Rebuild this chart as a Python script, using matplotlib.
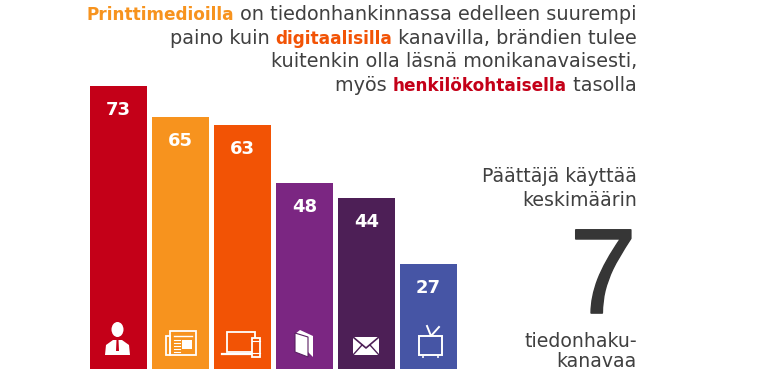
"""Channel usage bars with an infographic headline."""

import matplotlib

matplotlib.use("Agg")

import matplotlib.pyplot as plt
import matplotlib.patheffects as pe
from matplotlib.patches import Circle, Ellipse, Polygon, Rectangle

values = [73, 65, 63, 48, 44, 27]
bar_colors = ["#C40018", "#F7931E", "#F25305", "#7B2682", "#4D1F56", "#4655A5"]

headline = [
    [("Printtimedioilla", "#F7931E"), (" on tiedonhankinnassa edelleen suurempi", None)],
    [("paino kuin ", None), ("digitaalisilla", "#F25305"), (" kanavilla, brändien tulee", None)],
    [("kuitenkin olla läsnä monikanavaisesti,", None)],
    [("myös ", None), ("henkilökohtaisella", "#C40018"), (" tasolla", None)],
]
side_top = ["Päättäjä käyttää", "keskimäärin"]
side_big = "7"
side_bottom = ["tiedonhaku-", "kanavaa"]

TEXT = "#404040"
WHITE = "white"


def draw_line(fig, overlay, parts, right, base):
    # right aligned line with bold coloured words, measured from the end
    renderer = fig.canvas.get_renderer()
    x = right
    for word, color in reversed(parts):
        weight = "bold" if color else "normal"
        size = 12.2 if color else 13.9
        t = overlay.text(x, base, word.replace(" ", "\u00a0"), ha="right", va="baseline",
                         fontsize=size, color=color or TEXT, fontweight=weight)
        x -= t.get_window_extent(renderer).width


def draw_person(ov):
    ov.add_patch(Ellipse((117.5, 329.5), 12, 15, color=WHITE, lw=0))
    ov.add_patch(Polygon([(105, 355), (106, 345), (113, 340), (122, 340), (129, 345), (130, 355)], color=WHITE, lw=0))
    ov.add_patch(Polygon([(116.5, 340), (118.5, 340), (119, 351), (116, 351)], color=bar_colors[0], lw=0))


def draw_paper(ov):
    ov.add_patch(Rectangle((170, 331), 26, 24, fill=False, ec=WHITE, lw=1.3))
    ov.add_patch(Rectangle((166, 336), 4, 19, fill=False, ec=WHITE, lw=1.3))
    ov.add_patch(Rectangle((182, 340), 10, 9, color=WHITE, lw=0))
    ov.plot([174, 192], [335.5, 335.5], color=WHITE, lw=1)
    for y in (340, 343, 346, 349, 352):
        ov.plot([174, 180], [y, y], color=WHITE, lw=0.8)


def draw_devices(ov):
    ov.add_patch(Rectangle((227, 332), 28, 20, fill=False, ec=WHITE, lw=1.3))
    ov.plot([222, 251], [354, 354], color=WHITE, lw=1.6)
    ov.add_patch(Rectangle((252, 338), 8, 19, fc=bar_colors[2], ec=WHITE, lw=1.3))
    ov.plot([252, 260], [341, 341], color=WHITE, lw=0.8)
    ov.plot([252, 260], [353, 353], color=WHITE, lw=0.8)


def draw_book(ov):
    ov.add_patch(Polygon([(295, 334), (300, 330), (313, 336), (313, 357), (308, 352), (295, 352)],
                         color=WHITE, lw=0))
    ov.add_patch(Polygon([(295, 352), (308, 357), (308, 337), (295, 333)], fc=WHITE, ec="#5A1F62", lw=0.8))


def draw_mail(ov):
    ov.add_patch(Rectangle((353, 337), 26, 18, color=WHITE, lw=0))
    ov.plot([353, 366, 379], [337, 348, 337], color=bar_colors[4], lw=1.2)
    ov.plot([353, 362], [355, 345], color=bar_colors[4], lw=1)
    ov.plot([379, 370], [355, 345], color=bar_colors[4], lw=1)


def draw_tv(ov):
    ov.add_patch(Rectangle((419, 336), 23, 19, fill=False, ec=WHITE, lw=1.4))
    ov.plot([427, 431, 439], [326, 336, 327], color=WHITE, lw=1.4)
    ov.add_patch(Circle((423, 357), 1, color=WHITE, lw=0))
    ov.add_patch(Circle((438, 357), 1, color=WHITE, lw=0))


def main():
    fig = plt.figure(figsize=(7.7, 3.7), dpi=100)
    ax = fig.add_axes([90 / 770, 1 / 370, 367 / 770, 369 / 370])
    positions = list(range(len(values)))
    ax.bar(positions, values, width=0.92, color=bar_colors)
    ax.set_xlim(-0.46, 5.46)
    ax.set_ylim(0, 95.1)
    ax.axis("off")
    for pos, value in zip(positions, values):
        ax.annotate(str(value), (pos, value), xytext=(0, -24), textcoords="offset pixels",
                    ha="center", va="center", color=WHITE, fontsize=13, fontweight="bold")

    # pixel canvas for text and icons, y runs downward as in the image
    overlay = fig.add_axes([0, 0, 1, 1])
    overlay.set_xlim(0, 770)
    overlay.set_ylim(370, 0)
    overlay.axis("off")
    overlay.patch.set_alpha(0)

    fig.canvas.draw()
    for parts, base in zip(headline, [20, 44, 67, 91]):
        draw_line(fig, overlay, parts, 637, base)

    for line, base in zip(side_top, [182, 206]):
        overlay.text(637, base, line, ha="right", va="baseline", fontsize=13.6, color=TEXT)
    seven = overlay.text(637, 313, side_big, ha="right", va="baseline", fontsize=87, color="#363636",
                         family="Liberation Sans")
    seven.set_path_effects([pe.withStroke(linewidth=1.2, foreground="#363636")])
    for line, base in zip(side_bottom, [347, 367]):
        overlay.text(637, base, line, ha="right", va="baseline", fontsize=13.6, color=TEXT)

    draw_person(overlay)
    draw_paper(overlay)
    draw_devices(overlay)
    draw_book(overlay)
    draw_mail(overlay)
    draw_tv(overlay)

    fig.savefig("out.png", dpi=100)
    plt.close(fig)


if __name__ == "__main__":
    main()
